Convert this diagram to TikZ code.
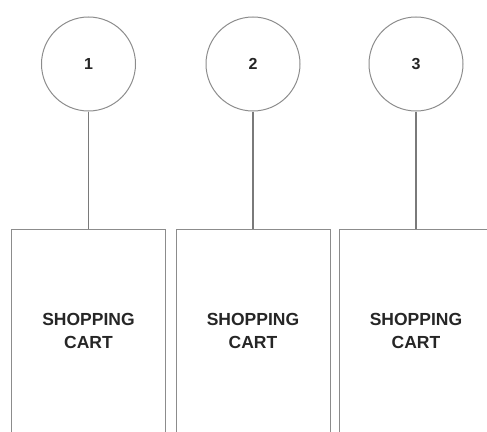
\documentclass[tikz,border=0pt]{standalone}
\usepackage{fontspec}
\setmainfont{Liberation Sans}
\usetikzlibrary{positioning}
\definecolor{edgegray}{HTML}{8C8C8C}
\definecolor{linkgray}{HTML}{7A7A7A}
\definecolor{textdark}{HTML}{262626}

\begin{document}
\begin{tikzpicture}[x=1pt,y=-1pt,
    stage/.style={circle,draw=edgegray,line width=1pt,minimum size=94pt,inner sep=0pt,
      font=\bfseries\fontsize{16}{18}\selectfont,text=textdark},
    cart/.style={draw=edgegray,line width=1pt,minimum width=154pt,minimum height=204pt,
      inner sep=0pt,align=center,font=\bfseries\fontsize{17.5}{23}\selectfont,text=textdark}]
    \clip (0,0) rectangle (487,431);
    \foreach \i/\x in {1/88.5,2/253,3/416}{
      \node[stage] (s\i) at (\x,64) {\i};
      \node[cart] (c\i) at (\x,331) {SHOPPING\\CART};
      \draw[linkgray,line width=1.4pt] (s\i) -- (c\i);
    }
\end{tikzpicture}
\end{document}
